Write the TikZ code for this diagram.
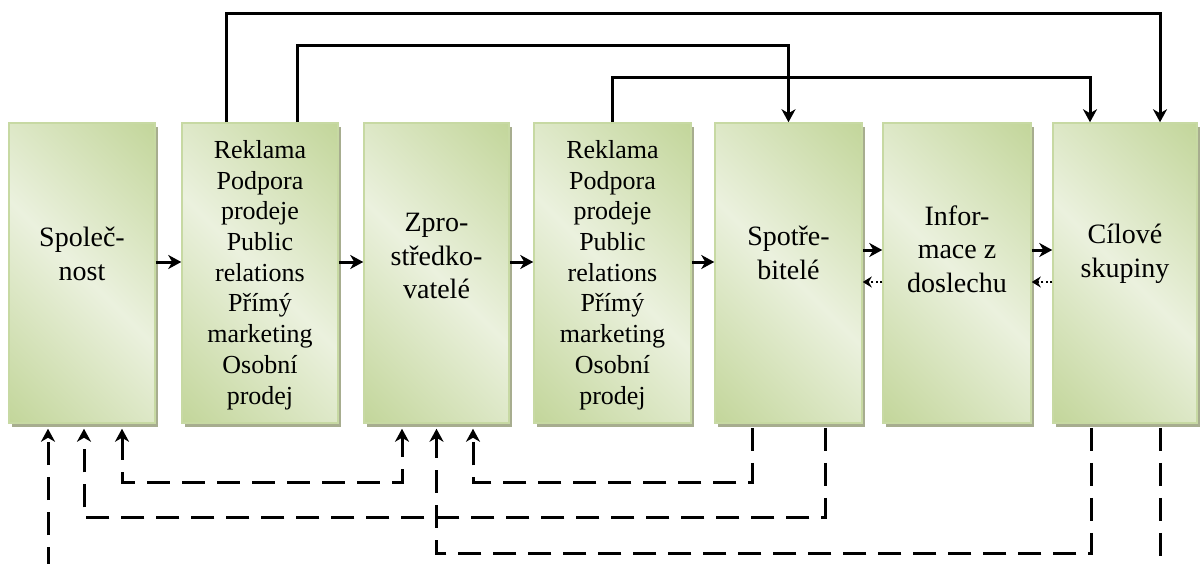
\documentclass[tikz,border=0pt]{standalone}
\usepackage{fontspec}
\setmainfont{Liberation Serif}
\usetikzlibrary{arrows.meta,shadows,calc}

\definecolor{fillDark}{HTML}{C3D69B}
\definecolor{fillLight}{HTML}{EBF1DE}
\definecolor{edgeGreen}{HTML}{C7D9A3}
\definecolor{shadowGrey}{HTML}{A7AD8F}

% diagonal fade: darker green in two opposite corners, light band between
\pgfdeclarehorizontalshading{greenfade}{100bp}{color(0bp)=(fillDark); color(15bp)=(fillDark); color(50bp)=(fillLight); color(85bp)=(fillDark); color(100bp)=(fillDark)}

\begin{document}
\begin{tikzpicture}[x=1pt,y=-1pt,
  panel/.style={draw=edgeGreen, line width=1.5pt, shading=greenfade, shading angle=45,
    minimum height=300pt, inner sep=0pt,
    drop shadow={shadow xshift=3pt, shadow yshift=-4pt, fill=shadowGrey, opacity=1}},
  bigtxt/.style={align=center, inner sep=0pt, font=\fontsize{28}{33.5}\selectfont},
  smalltxt/.style={align=center, inner sep=0pt, font=\fontsize{26}{30.7}\selectfont},
  tip/.tip={Stealth[length=13pt,width=14pt,inset=4pt]},
  flow/.style={line width=3pt, -tip},
  back/.style={line width=2pt, dash pattern=on 2pt off 2.5pt, -{Stealth[length=9pt,width=11pt,inset=3pt]}},
  fb/.style={line width=3pt, dash pattern=on 23pt off 12pt},
]
\useasboundingbox (0,0) rectangle (1201,564);

% boxes
\node[panel, minimum width=146pt] (b1) at (82,273) {};
\node[panel, minimum width=156pt] (b2) at (260,273) {};
\node[panel, minimum width=145pt] (b3) at (436.5,273) {};
\node[panel, minimum width=157pt] (b4) at (612.5,273) {};
\node[panel, minimum width=147pt] (b5) at (788.5,273) {};
\node[panel, minimum width=148pt] (b6) at (957,273) {};
\node[panel, minimum width=144pt] (b7) at (1125,273) {};

% labels
\node[bigtxt] (t1) at ([yshift=19pt]b1.center) {Společ-\\nost};
\node[smalltxt] (t2) at ([yshift=-2pt]b2.center) {Reklama\\Podpora\\prodeje\\Public\\relations\\Přímý\\marketing\\Osobní\\prodej};
\node[bigtxt] (t3) at ([yshift=17pt]b3.center) {Zpro-\\středko-\\vatelé};
\node[smalltxt] (t4) at ([yshift=-2pt]b4.center) {Reklama\\Podpora\\prodeje\\Public\\relations\\Přímý\\marketing\\Osobní\\prodej};
\node[bigtxt] (t5) at ([yshift=20pt]b5.center) {Spotře-\\bitelé};
\node[bigtxt] (t6) at ([yshift=24pt]b6.center) {Infor-\\mace z\\doslechu};
\node[bigtxt] (t7) at ([yshift=19pt]b7.center) {Cílové\\skupiny};

% routing levels
\coordinate (lv1) at (0,14);
\coordinate (lv2) at (0,46);
\coordinate (lv3) at (0,78);
\coordinate (lw1) at (0,482);
\coordinate (lw2) at (0,517);
\coordinate (lw3) at (0,553);
\coordinate (out) at (0,570);

% main chain
\draw[flow] ([yshift=11pt]b1.east) -- ([yshift=11pt]b2.west);
\draw[flow] ([yshift=11pt]b2.east) -- ([yshift=11pt]b3.west);
\draw[flow] ([yshift=11pt]b3.east) -- ([yshift=11pt]b4.west);
\draw[flow] ([yshift=11pt]b4.east) -- ([yshift=11pt]b5.west);
\draw[flow] ([yshift=23pt]b5.east) -- ([yshift=23pt]b6.west);
\draw[flow] ([yshift=23pt]b6.east) -- ([yshift=23pt]b7.west);
\draw[back] ([yshift=-9pt]b6.west) -- ([yshift=-9pt]b5.east);
\draw[back] ([yshift=-9pt]b7.west) -- ([yshift=-9pt]b6.east);

% ports on the top edges
\coordinate (p2a) at ([xshift=-34pt]b2.north);
\coordinate (p2b) at ([xshift=37pt]b2.north);
\coordinate (p7a) at ([xshift=-35pt]b7.north);
\coordinate (p7b) at ([xshift=35pt]b7.north);

\draw[flow] (p2a) -- (p2a |- lv1) -| (p7b);
\draw[flow] (p2b) -- (p2b |- lv2) -| (b5.north);
\draw[flow] (b4.north) -- (b4.north |- lv3) -| (p7a);

% ports below the bottom edges (under the shadow)
\coordinate (q1a) at ([xshift=-34pt,yshift=-5pt]b1.south);
\coordinate (q1b) at ([xshift=2pt,yshift=-5pt]b1.south);
\coordinate (q1c) at ([xshift=40pt,yshift=-5pt]b1.south);
\coordinate (q3a) at ([xshift=-34.5pt,yshift=-5pt]b3.south);
\coordinate (q3b) at ([yshift=-5pt]b3.south);
\coordinate (q3c) at ([xshift=36.5pt,yshift=-5pt]b3.south);
\coordinate (q5a) at ([xshift=-36.5pt,yshift=-4pt]b5.south);
\coordinate (q5b) at ([xshift=36.5pt,yshift=-4pt]b5.south);
\coordinate (q7a) at ([xshift=-34pt,yshift=-4pt]b7.south);
\coordinate (q7b) at ([xshift=35pt,yshift=-4pt]b7.south);
\coordinate (o1) at (q1a |- out);
\coordinate (o7) at (q7b |- out);

% feedback
\draw[fb, tip-tip] (q1c) -- (q1c |- lw1) -| (q3a);
\draw[fb, -tip] (q5a) -- (q5a |- lw1) -| (q3c);
\draw[fb, -tip] (q5b) -- (q5b |- lw2) -| (q1b);
\draw[fb, -tip] (q7a) -- (q7a |- lw3) -| (q3b);
\draw[fb] (q7b) -- (o7);
\draw[fb, -tip] (o1) -- (q1a);
\end{tikzpicture}
\end{document}
